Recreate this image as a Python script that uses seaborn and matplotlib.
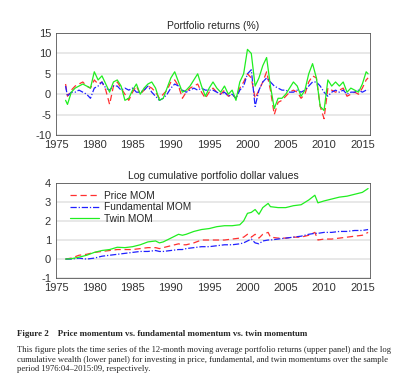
import numpy as np
import pandas as pd
import matplotlib
matplotlib.use('Agg')
import matplotlib.pyplot as plt
import seaborn as sns

# 12-month moving average returns (%)
years_top = [1976.25, 1976.5,
             1977.0, 1977.5, 1978.0, 1978.5, 1979.0, 1979.5, 1980.0, 1980.5, 1981.0, 1981.5,
             1982.0, 1982.5, 1983.0, 1983.5, 1984.0, 1984.5, 1985.0, 1985.5, 1986.0, 1986.5,
             1987.0, 1987.5, 1988.0, 1988.5, 1989.0, 1989.5, 1990.0, 1990.5, 1991.0, 1991.5,
             1992.0, 1992.5, 1993.0, 1993.5, 1994.0, 1994.5, 1995.0, 1995.5, 1996.0, 1996.5,
             1997.0, 1997.5, 1998.0, 1998.5, 1999.0, 1999.5, 2000.0, 2000.5, 2001.0, 2001.5,
             2002.0, 2002.5, 2003.0, 2003.5, 2004.0, 2004.5, 2005.0, 2005.5, 2006.0, 2006.5,
             2007.0, 2007.5, 2008.0, 2008.5, 2009.0, 2009.5, 2010.0, 2010.5, 2011.0, 2011.5,
             2012.0, 2012.5, 2013.0, 2013.5, 2014.0, 2014.5, 2015.0, 2015.5, 2015.75]
twin_ret = [-1.5, -2.5,
            0.5, 1.5, 2.0, 2.5, 2.0, 1.5, 5.5, 3.5, 4.5, 2.5,
            0.5, 3.0, 3.5, 2.0, -1.5, -1.0, 1.0, 2.5, 0.0, 1.5,
            2.5, 3.0, 1.5, -1.5, -1.0, 1.5, 4.0, 5.5, 3.0, 0.5,
            1.0, 2.0, 3.5, 5.0, 2.0, -0.5, 1.5, 3.0, 1.5, 0.5,
            2.0, 0.0, 1.0, -1.5, 3.0, 5.0, 11.0, 10.0, 2.0, 4.0,
            7.0, 9.0, 2.0, -3.5, -1.0, -1.0, 0.0, 1.5, 3.0, 2.0,
            -0.5, 1.0, 5.0, 7.5, 4.0, -3.0, -4.0, 3.5, 2.0, 3.0,
            2.0, 3.0, 0.5, 1.5, 1.0, 0.5, 2.5, 5.5, 5.0]
price_ret = [2.5, -0.5,
             1.0, 2.0, 2.5, 3.0, 2.0, 1.5, 3.5, 2.5, 3.0, 1.0,
             -2.5, 2.0, 3.0, 1.5, 0.0, -1.5, 0.5, 2.0, 0.0, 1.0,
             2.0, 1.5, 0.5, -1.0, 0.0, 1.0, 3.0, 3.5, 2.0, -1.0,
             0.5, 1.5, 2.0, 2.5, 0.5, -1.0, 0.5, 1.5, 0.5, 0.0,
             1.0, -0.5, 0.0, -1.0, 1.5, 3.0, 5.0, 4.0, -1.0, 1.0,
             3.0, 5.5, 1.0, -5.0, -2.0, -1.5, -0.5, 0.5, 1.0, 0.5,
             -1.0, 0.0, 3.0, 4.5, 4.0, -3.0, -6.0, 1.5, 1.0, 0.5,
             1.0, 1.5, -0.5, 0.0, 0.5, 0.0, 1.5, 3.5, 4.0]
fund_ret = [2.0, -0.5,
            0.5, 0.5, 1.0, 0.5, 0.0, -1.0, 1.5, 2.0, 3.0, 1.5,
            1.0, 2.0, 2.0, 1.0, 1.5, 1.0, 1.5, 0.5, 0.5, 1.0,
            2.0, 0.5, -0.5, -1.5, -1.0, 0.0, 1.5, 2.5, 2.0, 1.0,
            0.5, 1.0, 1.5, 1.0, 1.5, 1.0, 1.0, 1.0, 0.5, 0.0,
            0.5, -0.5, 0.0, -1.0, 1.0, 2.0, 5.0, 6.0, -3.0, 1.0,
            3.0, 4.0, 3.0, 2.0, 1.5, 1.0, 1.0, 0.5, 0.5, 1.0,
            0.5, 1.0, 2.0, 3.0, 3.0, 2.0, 0.5, -0.5, 0.5, 1.0,
            0.5, 1.0, 0.0, 0.5, 0.5, 1.0, 0.5, 1.0, 1.0]

# log cumulative dollar values
years_bot = [1976.25, 1977, 1978, 1979, 1980, 1981, 1982, 1983, 1984, 1985, 1986, 1987,
             1988, 1988.5, 1989, 1990, 1991, 1991.5, 1992, 1993, 1994, 1995, 1996, 1997,
             1998, 1999, 1999.5, 2000, 2000.5, 2001, 2001.5, 2002, 2002.7, 2003, 2004, 2005,
             2006, 2007, 2008, 2008.8, 2009.2, 2010, 2011, 2012, 2013, 2014, 2015, 2015.75]
twin_cum = [0, 0.02, 0.1, 0.2, 0.35, 0.45, 0.5, 0.62, 0.6, 0.65, 0.75, 0.9,
            0.95, 0.85, 0.9, 1.1, 1.3, 1.25, 1.3, 1.45, 1.55, 1.6, 1.7, 1.75,
            1.75, 1.8, 2.0, 2.4, 2.45, 2.6, 2.35, 2.7, 2.92, 2.75, 2.7, 2.7,
            2.8, 2.85, 3.1, 3.35, 2.95, 3.05, 3.15, 3.25, 3.3, 3.4, 3.5, 3.7]
price_cum = [0, 0.05, 0.2, 0.25, 0.35, 0.4, 0.45, 0.5, 0.5, 0.5, 0.55, 0.6,
             0.6, 0.55, 0.6, 0.7, 0.8, 0.75, 0.75, 0.85, 1.0, 1.0, 1.0, 1.0,
             1.05, 1.1, 1.15, 1.3, 1.15, 1.3, 1.1, 1.3, 1.4, 1.15, 1.1, 1.1,
             1.15, 1.15, 1.25, 1.4, 1.0, 1.05, 1.05, 1.1, 1.15, 1.2, 1.25, 1.4]
fund_cum = [0, 0.0, 0.05, 0.0, 0.05, 0.15, 0.2, 0.25, 0.3, 0.35, 0.4, 0.4,
            0.45, 0.4, 0.4, 0.45, 0.5, 0.5, 0.55, 0.6, 0.65, 0.65, 0.7, 0.75,
            0.75, 0.8, 0.85, 0.95, 1.05, 0.85, 0.8, 0.95, 1.0, 1.0, 1.05, 1.1,
            1.15, 1.2, 1.3, 1.35, 1.35, 1.4, 1.4, 1.45, 1.45, 1.5, 1.5, 1.55]

sns.set_style('white')
plt.rcParams['font.family'] = ['Liberation Sans', 'DejaVu Sans']
plt.rcParams['axes.unicode_minus'] = False

fig = plt.figure(figsize=(4, 3.89), dpi=100)
ax1 = fig.add_axes([0.14, 0.653, 0.785, 0.262])
ax2 = fig.add_axes([0.14, 0.285, 0.785, 0.245])

styles = [('Price MOM', '#ff3030', (0, (5, 3))),
          ('Fundamental MOM', '#2020ff', (0, (5, 1.5, 1, 1.5))),
          ('Twin MOM', '#20ee20', '-')]

top = pd.DataFrame({'year': years_top, 'Price MOM': price_ret,
                    'Fundamental MOM': fund_ret, 'Twin MOM': twin_ret})
bot = pd.DataFrame({'year': years_bot, 'Price MOM': price_cum,
                    'Fundamental MOM': fund_cum, 'Twin MOM': twin_cum})

for name, col, ls in styles:
    sns.lineplot(data=top, x='year', y=name, ax=ax1, color=col, lw=0.9, linestyle=ls)
    sns.lineplot(data=bot, x='year', y=name, ax=ax2, color=col, lw=0.9, linestyle=ls, label=name)

for ax, lo, hi, step in [(ax1, -10, 15, 5), (ax2, -1, 4, 1)]:
    ax.set_xlim(1975, 2016)
    ax.set_ylim(lo, hi)
    ax.set_xticks(range(1975, 2016, 5))
    ax.set_yticks(range(lo, hi + 1, step))
    ax.set_xlabel('')
    ax.set_ylabel('')
    ax.grid(axis='y', color='#e4e4e4', lw=1.2)
    ax.set_axisbelow(True)
    ax.tick_params(direction='in', length=3, labelsize=8, colors='#333333', width=0.6)
    for s in ax.spines.values():
        s.set_color('#555555')
        s.set_linewidth(0.6)

ax1.set_title('Portfolio returns (%)', fontsize=7.5, pad=3)
ax2.set_title('Log cumulative portfolio dollar values', fontsize=7.5, pad=3)
ax2.legend(loc='upper left', frameon=False, fontsize=7.3, handlelength=2.8,
           labelspacing=0.15, borderaxespad=0.4, handletextpad=0.5,
           bbox_to_anchor=(0.02, 1.0))

fig.text(0.043, 0.137, 'Figure 2    Price momentum vs. fundamental momentum vs. twin momentum',
         family='Liberation Serif', weight='bold', fontsize=6.4)
fig.text(0.043, 0.04,
         'This figure plots the time series of the 12-month moving average portfolio returns (upper panel) and the log\n'
         'cumulative wealth (lower panel) for investing in price, fundamental, and twin momentums over the sample\n'
         'period 1976:04\u20132015:09, respectively.',
         family='Liberation Serif', fontsize=6.2, linespacing=1.3, va='bottom')

fig.savefig('out.png', dpi=100)
